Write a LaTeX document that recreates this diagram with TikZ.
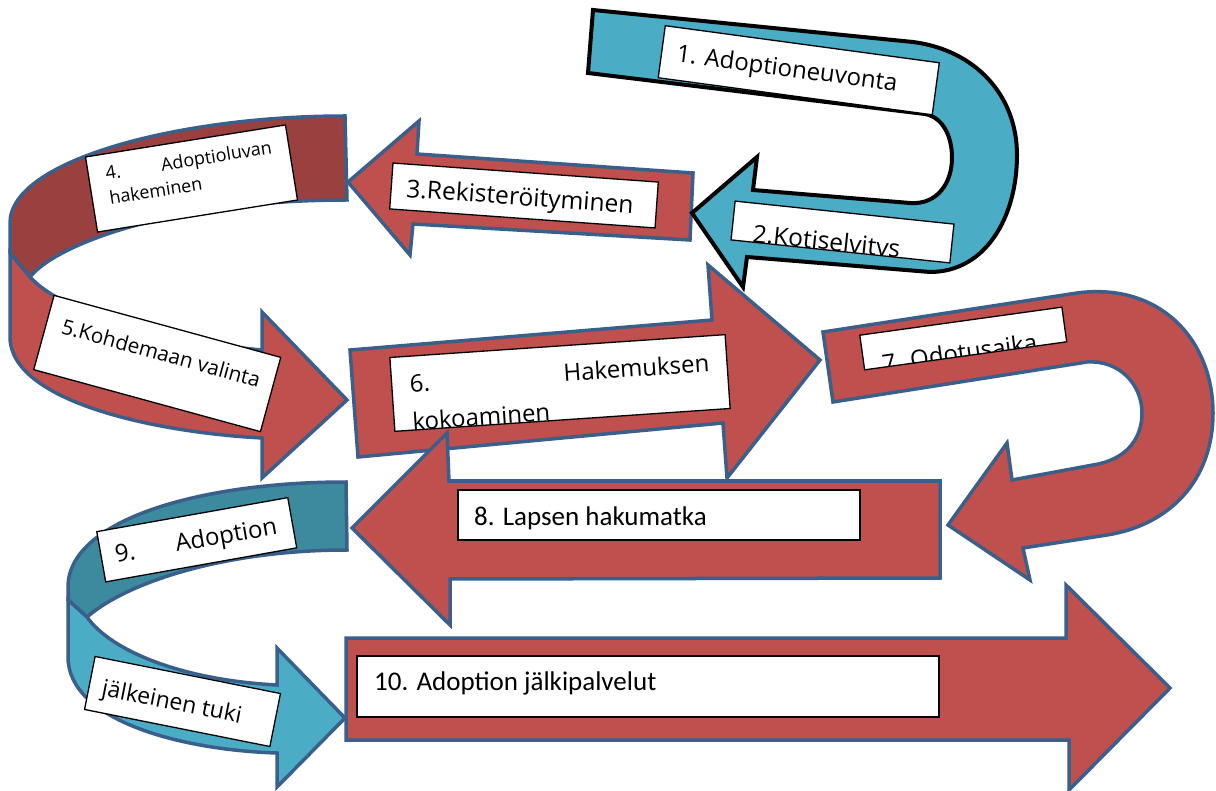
\documentclass[tikz,border=0pt]{standalone}
\usepackage{fontspec}
\newfontfamily\os{Open Sans}
\newfontfamily\cb{Carlito}
\definecolor{redf}{HTML}{C0504D}
\definecolor{darkredf}{HTML}{9A403E}
\definecolor{bluef}{HTML}{4BACC6}
\definecolor{darkbluef}{HTML}{3C8A9E}
\definecolor{edge}{HTML}{3A5F8B}
\tikzset{
  redarrow/.style={fill=redf,draw=edge,line width=3.5pt},
  darkredpart/.style={fill=darkredf,draw=edge,line width=3.5pt},
  bluearrow/.style={fill=bluef,draw=edge,line width=3.5pt},
  darkbluepart/.style={fill=darkbluef,draw=edge,line width=3.5pt},
  firstarrow/.style={fill=bluef,draw=black,line width=4pt},
  boxline/.style={draw=black,line width=1.3pt},
  lbl/.style={anchor=base west,inner sep=0pt,text=black}
}
\newcommand\tbox[5]{% center, angle, width, height, text
 \begin{scope}[shift={#1},rotate=#2,transform shape]
 \begin{scope}[shift={(-#3/2,-#4/2)}]
  \fill[white] (0,0) rectangle (#3,#4);
  \begin{scope}
   \clip (0,0) rectangle (#3,#4);
   #5
  \end{scope}
  \draw[boxline] (0,0) rectangle (#3,#4);
 \end{scope}
 \end{scope}}
\begin{document}
\begin{tikzpicture}[x=1pt,y=-1pt]
\useasboundingbox (0,0) rectangle (1216,791);
% 10
\draw[redarrow] (346,638) -- (1066,638) -- (1066,585) -- (1170,688) -- (1069,790) -- (1069,740) -- (346,740) -- cycle;
\tbox{(648,686.5)}{0}{582}{61}{\node[lbl] (t10) at (17,34) {\cb\fontsize{27}{32}\selectfont 10. Adoption jälkipalvelut};}
% 9 ribbon
\draw[darkbluepart] (346,482) .. controls (200,482) and (68,520) .. (68,587) -- (68,600) -- (87,617) .. controls (130,580) and (230,550) .. (347,550) -- cycle;
\draw[bluearrow] (68,600) -- (68,657) .. controls (68,720) and (180,750) .. (277,753) -- (277,787) -- (345,718) -- (277,648) -- (277,685) .. controls (180,680) and (110,650) .. (87,617) -- cycle;
\tbox{(196.75,539.75)}{10.1}{194}{51}{\node[lbl] (t9) at (14,34) {\os\fontsize{24}{30}\selectfont\hbox to 164pt{9.\hfill Adoption}};}
\tbox{(182.5,701.5)}{-11.3}{189}{54}{\node[lbl] (t9b) at (13,37) {\os\fontsize{23}{28}\selectfont jälkeinen tuki};}
% 6
\draw[redarrow] (350,350) -- (712,320) -- (708,265) -- (820,360) -- (727,478) -- (723,423) -- (358,457) -- cycle;
\tbox{(560,383)}{3.9}{336}{74}{\node[lbl] (t6) at (18,36) {\os\fontsize{24}{30}\selectfont\hbox to 300pt{6.\hfill Hakemuksen}};
 \node[lbl] (t6b) at (18,74) {\os\fontsize{24}{30}\selectfont kokoaminen};}
% 8
\draw[redarrow] (352,528) -- (447,433) -- (449,481) -- (940,481) -- (940,578) -- (450,579) -- (450,625) -- cycle;
\tbox{(659,515)}{0}{402}{50}{\node[lbl] (t8) at (16,35) {\cb\fontsize{27}{32}\selectfont 8. Lapsen hakumatka};}
% 7
\draw[redarrow] (823,332) -- (1077,293) .. controls (1160,282) and (1213,340) .. (1213,413) .. controls (1213,480) and (1170,525) .. (1107,535) -- (1023,548) -- (1030,580) -- (948,525) -- (1007,443) -- (1012,480) -- (1093,465) .. controls (1125,460) and (1142,440) .. (1142,413) .. controls (1142,385) and (1120,360) .. (1087,362) -- (833,402) -- cycle;
\tbox{(963.25,338.5)}{7.9}{204}{35}{\node[lbl] (t7) at (18,40) {\os\fontsize{24}{30}\selectfont 7. Odotusaika};}
% 4/5 ribbon
\draw[darkredpart] (345,116) .. controls (180,116) and (10,160) .. (10,223) -- (10,253) -- (30,277) .. controls (55,245) and (170,200) .. (347,200) -- cycle;
\draw[redarrow] (10,253) -- (10,337) .. controls (10,400) and (150,432) .. (262,438) -- (262,478) -- (347,400) -- (262,312) -- (262,350) .. controls (150,340) and (60,310) .. (30,277) -- cycle;
\tbox{(191.5,178.5)}{9.1}{202.5}{76}{\node[lbl] (t4) at (17,26) {\os\fontsize{18}{24}\selectfont\hbox to 168pt{4.\hfill Adoptioluvan}};
 \node[lbl] (t4b) at (17,51) {\os\fontsize{18}{24}\selectfont hakeminen};}
\tbox{(157.25,363.5)}{-15.3}{235}{77}{\node[lbl] (t5) at (16,35) {\os\fontsize{20.8}{26}\selectfont 5.Kohdemaan valinta};}
% 3
\draw[redarrow] (348,182) -- (419,121) -- (417,154) -- (693,173) -- (690,240) -- (413,224) -- (410,255) -- cycle;
\tbox{(524,195.5)}{-4.1}{266}{46}{\node[lbl] (t3) at (15,33) {\os\fontsize{24.6}{30}\selectfont 3.Rekisteröityminen};}
% 1
\draw[firstarrow] (593,10) -- (913,42) .. controls (975,50) and (1017,95) .. (1017,155) .. controls (1017,218) and (985,272) .. (930,272) -- (747,257) -- (743,287) -- (692,213) -- (757,157) -- (753,190) -- (910,203) .. controls (938,205) and (952,182) .. (952,158) .. controls (952,135) and (942,117) .. (925,114) -- (588,73) -- cycle;
\tbox{(798.75,70.25)}{-7.7}{276.5}{52.5}{\node[lbl] (t1) at (15,34) {\os\fontsize{24}{28}\selectfont 1. Adoptioneuvonta};}
\tbox{(842.5,232)}{-6}{220}{39}{\node[lbl] (t2) at (21,39) {\os\fontsize{24.5}{30}\selectfont 2.Kotiselvitys};}
\end{tikzpicture}
\end{document}
